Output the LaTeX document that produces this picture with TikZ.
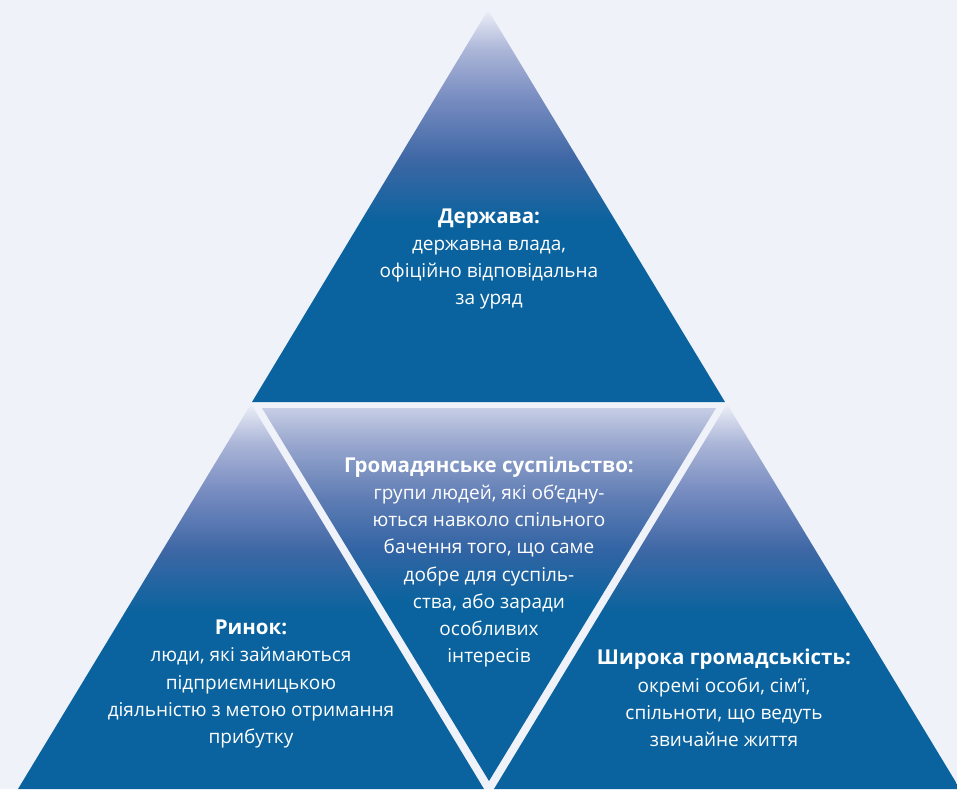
\documentclass[tikz,border=0pt]{standalone}
\usepackage{fontspec}
\setmainfont{Open Sans}
\definecolor{bg}{RGB}{239,242,248}
\definecolor{pblue}{RGB}{10,99,158}
\definecolor{plight}{RGB}{236,239,247}
\definecolor{pl0}{RGB}{172,182,216}
\definecolor{pl1}{RGB}{122,142,194}
\definecolor{pl2}{RGB}{62,103,165}
\definecolor{plav}{RGB}{198,206,229}
\definecolor{pv0}{RGB}{150,165,205}
\definecolor{pv1}{RGB}{95,125,180}
\definecolor{pv2}{RGB}{50,100,164}
\pgfdeclareverticalshading{pyrtop}{100bp}{color(0bp)=(pblue); color(48bp)=(pblue); color(56bp)=(pl2); color(64bp)=(pl1); color(70bp)=(pl0); color(75bp)=(plight); color(100bp)=(plight)}
\pgfdeclareverticalshading{pyrinv}{100bp}{color(0bp)=(pblue); color(49bp)=(pblue); color(56bp)=(pv2); color(63bp)=(pv1); color(70bp)=(pv0); color(75bp)=(plav); color(100bp)=(plav)}
\newcommand{\hd}[1]{{\fontsize{20.5}{27.2}\selectfont\bfseries #1}}
\tikzset{
  tri/.style={shading=pyrtop, draw=none},
  invtri/.style={shading=pyrinv, draw=none},
  lbl/.style={text=white, align=center, inner sep=0pt, font=\fontsize{19}{27.2}\selectfont},
}
\begin{document}
\begin{tikzpicture}[x=1pt,y=-1pt]
\fill[bg] (0,0) rectangle (957,789);
\useasboundingbox (0,0) rectangle (957,789);
\shade[tri] (488,10) -- (252,402) -- (725,402) -- cycle;
\shade[invtri] (262,408) -- (716,408) -- (489,781) -- cycle;
\shade[tri] (251,404) -- (18,789) -- (484,789) -- cycle;
\shade[tri] (727,404) -- (494,789) -- (960,789) -- cycle;
\node[lbl] (state) at (489,259) {\hd{Держава:}\\державна влада,\\офіційно відповідальна\\за уряд};
\node[lbl] (civil) at (489,562) {\hd{Громадянське суспільство:}\\групи людей, які об’єдну-\\ються навколо спільного\\бачення того, що саме\\добре для суспіль-\\ства, або заради\\особливих\\інтересів};
\node[lbl] (market) at (251,684) {\hd{Ринок:}\\люди, які займаються\\підприємницькою\\діяльністю з метою отримання\\прибутку};
\node[lbl] (public) at (724,698) {\hd{Широка громадськість:}\\окремі особи, сім’ї,\\спільноти, що ведуть\\звичайне життя};
\end{tikzpicture}
\end{document}
